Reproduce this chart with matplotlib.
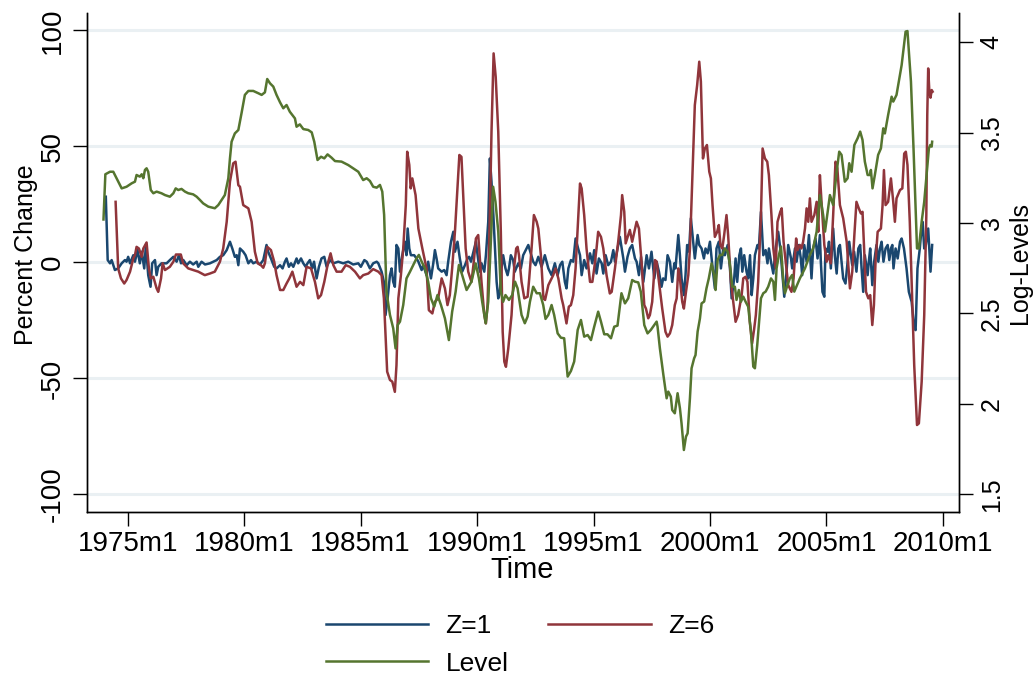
import numpy as np
import matplotlib
matplotlib.use("Agg")
import matplotlib.pyplot as plt

plt.rcParams["font.family"] = ["Liberation Sans", "DejaVu Sans"]

# (decimal year, percent change) -- monthly percent change, Z=1
z1_points = [
    (1974.06, 28.3), (1974.14, 1.0), (1974.24, -0.4), (1974.31, 1.0), (1974.45, -3.3),
    (1974.59, -2.6), (1974.74, -0.4), (1974.88, 1.0), (1974.95, 0.3), (1975.02, 2.4),
    (1975.10, -0.4), (1975.24, 3.1), (1975.31, 0.3), (1975.42, 5.3), (1975.52, -0.4),
    (1975.60, 4.6), (1975.71, -2.6), (1975.78, 7.5), (1975.88, -5.5), (1975.98, -10.5),
    (1976.05, -0.4), (1976.17, 1.0), (1976.24, -5.5), (1976.31, -1.9), (1976.45, -0.4),
    (1976.67, -0.4), (1976.81, 1.0), (1976.96, 2.4), (1977.10, 0.3), (1977.20, 3.1),
    (1977.29, -0.4), (1977.39, 1.0), (1977.53, -1.2), (1977.67, 0.3), (1977.81, -0.9),
    (1977.96, 0.3), (1978.03, -1.9), (1978.17, 0.3), (1978.32, -0.9), (1978.53, -0.4),
    (1978.67, 0.3), (1978.82, 1.0), (1978.96, 2.4), (1979.10, 3.1), (1979.25, 5.3),
    (1979.39, 8.9), (1979.49, 6.0), (1979.60, 2.4), (1979.68, 3.1), (1979.75, -1.2),
    (1979.82, 6.0), (1979.96, 4.6), (1980.06, 3.1), (1980.18, -0.4), (1980.29, 1.0),
    (1980.39, -0.4), (1980.53, 0.3), (1980.68, -0.9), (1980.82, 1.0), (1980.96, 7.5),
    (1981.03, 4.6), (1981.15, 1.7), (1981.29, -1.9), (1981.39, -2.6), (1981.54, -1.2),
    (1981.65, -2.6), (1981.75, 0.3), (1981.82, 1.7), (1981.92, -1.9), (1982.01, -0.4),
    (1982.11, -1.9), (1982.25, 1.7), (1982.32, -0.4), (1982.44, 1.7), (1982.54, -0.4),
    (1982.64, -1.9), (1982.72, -0.4), (1982.82, 1.0), (1982.92, -2.6), (1983.00, 0.3),
    (1983.11, -6.9), (1983.21, -1.9), (1983.32, 1.7), (1983.44, 2.4), (1983.54, -1.9),
    (1983.68, 1.0), (1983.83, -0.4), (1984.04, 0.3), (1984.25, -0.4), (1984.47, 0.3),
    (1984.68, -0.9), (1984.90, -0.4), (1985.01, -1.9), (1985.16, 1.0), (1985.26, 0.3),
    (1985.40, -2.6), (1985.54, -0.4), (1985.69, 0.3), (1985.76, -0.4), (1985.90, -4.0),
    (1986.00, -8.4), (1986.07, -22.7), (1986.16, -15.5), (1986.26, -5.5), (1986.33, -2.6),
    (1986.40, -8.4), (1986.47, -10.5), (1986.54, 7.5), (1986.62, 6.0), (1986.69, -4.0),
    (1986.79, 3.1), (1986.90, 8.9), (1986.97, 3.1), (1987.02, 14.6), (1987.09, 6.0),
    (1987.16, 3.1), (1987.30, 3.1), (1987.40, 1.7), (1987.48, 0.3), (1987.62, -3.3),
    (1987.69, -1.2), (1987.83, -5.5), (1987.90, 0.3), (1988.02, -6.9), (1988.12, -0.4),
    (1988.19, 5.3), (1988.26, 1.7), (1988.33, -2.6), (1988.48, -4.0), (1988.59, -3.3),
    (1988.69, -5.5), (1988.76, 0.3), (1988.88, 8.9), (1988.98, 13.2), (1989.05, 4.6),
    (1989.16, 8.9), (1989.26, 1.7), (1989.36, -4.0), (1989.48, -1.2), (1989.59, 1.7),
    (1989.66, 2.4), (1989.74, 0.3), (1989.81, 3.1), (1989.88, 6.0), (1989.95, 8.9),
    (1990.05, 1.0), (1990.12, -4.0), (1990.19, -0.4), (1990.31, -4.0), (1990.38, 3.1),
    (1990.48, 17.5), (1990.55, 44.8), (1990.62, 34.8), (1990.70, 20.4), (1990.77, 6.0),
    (1990.84, -8.4), (1990.91, -15.5), (1990.98, -12.7), (1991.05, -2.6), (1991.12, 3.1),
    (1991.22, -2.6), (1991.31, -5.5), (1991.37, -2.6), (1991.45, 3.1), (1991.55, 1.0),
    (1991.62, -4.0), (1991.77, -0.4), (1991.88, -2.6), (1991.98, 3.1), (1992.20, 7.5),
    (1992.41, 0.3), (1992.51, -1.2), (1992.63, 2.4), (1992.77, -1.9), (1992.91, 3.1),
    (1993.06, -2.6), (1993.20, -5.5), (1993.34, -0.4), (1993.46, -5.5), (1993.56, -1.2),
    (1993.66, 0.3), (1993.77, -8.4), (1993.84, -11.2), (1993.92, -2.6), (1994.03, 1.0),
    (1994.13, 0.3), (1994.23, 10.3), (1994.34, 6.0), (1994.42, 3.1), (1994.49, -5.5),
    (1994.60, 1.0), (1994.70, -2.6), (1994.85, 3.9), (1994.95, -0.4), (1995.03, 5.3),
    (1995.13, -4.8), (1995.23, 1.7), (1995.35, -0.4), (1995.42, -4.8), (1995.52, 3.1),
    (1995.63, -1.2), (1995.75, 0.3), (1995.85, 5.3), (1995.92, 0.3), (1996.13, 11.0),
    (1996.21, 6.0), (1996.28, 1.7), (1996.35, -4.0), (1996.46, 2.4), (1996.56, 6.0),
    (1996.66, 7.5), (1996.78, 1.7), (1996.85, 0.3), (1996.95, -5.5), (1997.04, 2.4),
    (1997.14, -8.4), (1997.28, 3.1), (1997.38, -2.6), (1997.49, 4.6), (1997.61, -6.9),
    (1997.71, 0.3), (1997.81, -4.0), (1997.92, -10.5), (1997.99, -6.9), (1998.09, -7.6),
    (1998.18, 3.1), (1998.28, 0.3), (1998.38, -8.4), (1998.47, -0.4), (1998.52, -2.6),
    (1998.64, 11.8), (1998.71, 3.1), (1998.78, -6.9), (1998.88, -14.1), (1998.95, -5.5),
    (1999.02, 7.5), (1999.10, 4.6), (1999.18, 19.0), (1999.28, 8.9), (1999.35, 1.7),
    (1999.47, 11.8), (1999.54, 7.5), (1999.64, 6.0), (1999.74, 1.7), (1999.81, 6.0),
    (1999.90, 3.9), (2000.00, 8.9), (2000.10, -1.2), (2000.21, -11.2), (2000.28, 6.0),
    (2000.38, 8.9), (2000.47, -2.6), (2000.57, 6.0), (2000.64, 3.1), (2000.76, 7.5),
    (2000.86, -2.6), (2000.93, -15.5), (2001.04, -6.9), (2001.10, 1.7), (2001.17, -8.4),
    (2001.26, 3.1), (2001.33, 6.0), (2001.39, -4.0), (2001.47, 3.1), (2001.57, -4.0),
    (2001.64, -6.9), (2001.72, 3.1), (2001.79, -14.1), (2001.86, -6.9), (2001.93, 3.1),
    (2002.04, 7.5), (2002.10, 6.0), (2002.19, 21.8), (2002.29, 3.1), (2002.39, 5.3),
    (2002.47, -0.4), (2002.53, 6.0), (2002.62, 0.3), (2002.72, -4.8), (2002.82, 6.0),
    (2002.93, 13.2), (2003.02, 6.0), (2003.10, -4.0), (2003.19, -14.8), (2003.29, -4.0),
    (2003.36, 7.5), (2003.48, 1.7), (2003.53, -2.6), (2003.65, 6.0), (2003.72, 0.3),
    (2003.82, 7.5), (2003.90, 1.7), (2003.96, -5.5), (2004.05, 7.5), (2004.15, 0.3),
    (2004.25, 11.8), (2004.36, -6.9), (2004.43, 6.0), (2004.53, 10.3), (2004.62, 1.7),
    (2004.72, 11.8), (2004.76, 0.3), (2004.83, -12.7), (2004.91, -14.8), (2004.96, 6.0),
    (2005.05, 4.6), (2005.11, 8.9), (2005.19, -2.6), (2005.29, 14.6), (2005.36, 3.1),
    (2005.44, -4.8), (2005.51, 6.0), (2005.58, 7.5), (2005.65, 0.3), (2005.72, -6.9),
    (2005.82, -9.1), (2005.91, 0.3), (2005.98, 8.9), (2006.05, 3.1), (2006.11, -1.2),
    (2006.19, 4.6), (2006.29, -4.0), (2006.37, 6.0), (2006.45, 7.5), (2006.51, -2.6),
    (2006.58, -12.7), (2006.65, 3.1), (2006.77, -5.5), (2006.82, 0.3), (2006.88, 6.0),
    (2006.97, -9.8), (2007.05, 0.3), (2007.15, 7.5), (2007.23, 0.3), (2007.30, 6.0),
    (2007.37, 8.9), (2007.45, 0.3), (2007.54, 6.0), (2007.63, 7.5), (2007.70, 1.0),
    (2007.77, 6.0), (2007.83, 7.5), (2007.88, -2.6), (2007.97, 6.0), (2008.06, 1.7),
    (2008.16, 8.9), (2008.23, 10.3), (2008.33, 6.0), (2008.44, -2.6), (2008.54, -12.7),
    (2008.66, -17.0), (2008.77, -28.5), (2008.83, -29.2), (2008.91, -2.6), (2009.01, 6.0),
    (2009.06, 11.8), (2009.13, 17.5), (2009.20, 6.0), (2009.27, 7.5), (2009.37, 14.6),
    (2009.47, -4.0), (2009.54, 7.5),
]

# (decimal year, percent change) -- six-month percent change, Z=6
z6_points = [
    (1974.48, 26.1), (1974.59, -2.6), (1974.71, -6.9), (1974.85, -9.1), (1974.95, -7.6),
    (1975.10, -4.0), (1975.24, 1.7), (1975.31, 3.1), (1975.38, 6.7), (1975.48, 6.0),
    (1975.60, 2.4), (1975.67, 6.0), (1975.81, 8.6), (1975.91, -2.6), (1975.99, -6.9),
    (1976.10, -6.2), (1976.24, -11.2), (1976.31, -12.7), (1976.43, -6.9), (1976.50, -0.4),
    (1976.60, -3.3), (1976.81, -1.9), (1976.96, 0.3), (1977.07, 3.4), (1977.28, 3.4),
    (1977.38, -0.4), (1977.60, -2.6), (1977.81, -3.3), (1978.03, -4.0), (1978.31, -5.5),
    (1978.53, -4.8), (1978.74, -4.0), (1978.96, 0.3), (1979.10, 6.0), (1979.25, 17.5),
    (1979.39, 34.8), (1979.53, 42.7), (1979.63, 43.4), (1979.75, 33.3), (1979.82, 32.6),
    (1979.96, 24.7), (1980.18, 23.3), (1980.32, 17.5), (1980.46, 4.6), (1980.58, -0.4),
    (1980.72, -1.2), (1980.82, -2.3), (1980.89, -0.4), (1980.99, 6.7), (1981.15, 5.3),
    (1981.29, 0.3), (1981.39, -5.5), (1981.54, -11.9), (1981.68, -11.9), (1981.82, -9.1),
    (1981.94, -6.9), (1982.07, -4.0), (1982.25, -10.5), (1982.40, -8.4), (1982.54, -9.8),
    (1982.68, -1.9), (1982.87, -2.6), (1983.04, -8.4), (1983.18, -15.5), (1983.30, -14.1),
    (1983.44, -8.4), (1983.61, 0.3), (1983.71, 3.9), (1983.83, -1.2), (1983.97, -4.0),
    (1984.18, -4.0), (1984.36, -1.2), (1984.54, -1.9), (1984.76, -4.0), (1984.97, -6.9),
    (1985.11, -5.5), (1985.33, -4.8), (1985.54, -2.9), (1985.76, -4.0), (1985.90, -5.5),
    (1986.00, -15.5), (1986.14, -47.1), (1986.26, -50.7), (1986.36, -51.4), (1986.47, -55.8),
    (1986.54, -44.3), (1986.62, -15.5), (1986.73, -5.5), (1986.83, 6.0), (1986.94, 24.7),
    (1987.00, 47.7), (1987.09, 42.0), (1987.15, 31.9), (1987.22, 36.2), (1987.36, 29.0),
    (1987.48, 14.6), (1987.65, 6.0), (1987.83, -2.6), (1987.93, -20.6), (1988.08, -22.0),
    (1988.19, -17.0), (1988.33, -15.5), (1988.48, -6.9), (1988.62, -11.2), (1988.73, -18.4),
    (1988.83, -14.1), (1988.93, -2.6), (1989.05, 13.2), (1989.16, 31.9), (1989.24, 46.3),
    (1989.33, 45.5), (1989.41, 27.6), (1989.51, 6.0), (1989.62, -4.0), (1989.76, -8.4),
    (1989.86, 0.3), (1989.95, 10.3), (1990.05, 11.8), (1990.19, -8.4), (1990.31, -22.7),
    (1990.38, -26.3), (1990.45, -18.4), (1990.55, 20.4), (1990.62, 56.3), (1990.71, 90.1),
    (1990.80, 80.0), (1990.91, 56.3), (1991.02, 13.2), (1991.10, -29.9), (1991.17, -42.8),
    (1991.24, -45.0), (1991.34, -37.1), (1991.48, -22.7), (1991.60, -1.2), (1991.68, 6.0),
    (1991.74, 6.7), (1991.80, 3.1), (1991.91, -8.4), (1992.03, -15.5), (1992.17, -14.8),
    (1992.24, -6.9), (1992.34, 6.0), (1992.44, 20.4), (1992.56, 17.5), (1992.63, 14.6),
    (1992.74, 3.1), (1992.85, -15.5), (1992.92, -16.2), (1993.06, -9.8), (1993.17, -7.6),
    (1993.27, -5.5), (1993.37, -2.6), (1993.49, -6.9), (1993.63, -15.5), (1993.70, -18.4),
    (1993.84, -26.3), (1993.94, -19.1), (1994.03, -18.4), (1994.13, -14.1), (1994.23, -2.6),
    (1994.34, 19.0), (1994.42, 34.0), (1994.49, 31.9), (1994.60, 20.4), (1994.70, 6.0),
    (1994.85, -8.4), (1994.95, -8.4), (1995.03, -2.6), (1995.13, 6.0), (1995.20, 13.2),
    (1995.32, 11.0), (1995.42, 6.0), (1995.56, -5.5), (1995.70, -13.4), (1995.78, -12.7),
    (1995.92, -2.6), (1996.06, 8.9), (1996.18, 20.4), (1996.23, 29.0), (1996.32, 21.8),
    (1996.38, 8.2), (1996.49, 11.8), (1996.56, 14.0), (1996.66, 8.9), (1996.85, 17.5),
    (1996.95, 14.6), (1997.06, 0.3), (1997.18, -18.4), (1997.25, -19.9), (1997.35, -24.1),
    (1997.42, -22.7), (1997.52, -17.0), (1997.64, 1.0), (1997.71, 0.3), (1997.81, -8.4),
    (1997.95, -19.9), (1998.09, -29.9), (1998.18, -32.0), (1998.28, -30.6), (1998.38, -27.0),
    (1998.49, -18.4), (1998.57, -15.5), (1998.64, -2.6), (1998.71, -6.9), (1998.81, -17.0),
    (1998.88, -19.9), (1998.97, -12.7), (1999.07, -5.5), (1999.14, 6.0), (1999.24, 34.8),
    (1999.35, 67.8), (1999.45, 76.4), (1999.54, 86.5), (1999.61, 77.9), (1999.70, 44.8),
    (1999.78, 49.1), (1999.87, 50.6), (1999.97, 39.1), (2000.04, 36.2), (2000.11, 24.7),
    (2000.21, 11.0), (2000.31, 13.2), (2000.38, 16.1), (2000.45, 7.5), (2000.53, 6.0),
    (2000.61, 11.8), (2000.71, 20.4), (2000.78, 11.8), (2000.90, -8.4), (2001.00, -17.0),
    (2001.10, -25.6), (2001.21, -22.7), (2001.36, -14.1), (2001.43, -6.9), (2001.53, -6.2),
    (2001.61, -8.4), (2001.71, -25.6), (2001.81, -34.9), (2001.90, -28.5), (2001.97, -22.7),
    (2002.07, -8.4), (2002.19, 20.4), (2002.26, 49.1), (2002.36, 44.8), (2002.46, 43.4),
    (2002.53, 37.6), (2002.64, 20.4), (2002.72, 6.0), (2002.82, -2.6), (2002.90, 17.5),
    (2003.02, 21.8), (2003.08, 23.3), (2003.16, 8.9), (2003.25, 0.3), (2003.36, -9.8),
    (2003.50, -12.7), (2003.59, -6.9), (2003.70, 10.3), (2003.76, 5.3), (2003.86, 7.5),
    (2003.93, 6.0), (2004.00, 8.9), (2004.08, 14.6), (2004.15, 23.3), (2004.22, 17.5),
    (2004.29, 27.6), (2004.36, 17.5), (2004.48, 20.4), (2004.58, 26.1), (2004.65, 13.2),
    (2004.72, 37.6), (2004.79, 26.1), (2004.91, 7.5), (2005.01, 0.3), (2005.08, 3.1),
    (2005.19, -0.4), (2005.29, 20.4), (2005.39, 43.4), (2005.47, 40.5), (2005.58, 24.7),
    (2005.72, 19.0), (2005.87, 8.9), (2006.01, -11.2), (2006.11, -4.0), (2006.20, 11.8),
    (2006.29, 26.1), (2006.39, 23.3), (2006.48, 21.1), (2006.55, 21.8), (2006.62, 6.0),
    (2006.70, -12.7), (2006.80, -15.5), (2006.88, -14.1), (2006.97, -27.0), (2007.04, -18.4),
    (2007.11, 0.3), (2007.20, 13.2), (2007.34, 14.6), (2007.41, 24.4), (2007.47, 39.8),
    (2007.54, 24.7), (2007.65, 26.1), (2007.77, 36.2), (2007.87, 26.1), (2007.94, 17.5),
    (2008.01, 27.6), (2008.16, 31.2), (2008.26, 31.9), (2008.34, 46.9), (2008.41, 47.7),
    (2008.48, 42.0), (2008.58, 17.5), (2008.68, -15.5), (2008.77, -44.3), (2008.89, -70.1),
    (2008.97, -69.4), (2009.09, -51.4), (2009.20, -22.7), (2009.29, 20.4), (2009.33, 63.5),
    (2009.37, 83.6), (2009.42, 73.6), (2009.47, 71.0), (2009.52, 74.3), (2009.56, 73.6),
]

# (decimal year, log level) -- right axis
level_points = [
    (1973.96, 3.02), (1974.04, 3.27), (1974.24, 3.284), (1974.38, 3.284), (1974.74, 3.192),
    (1974.95, 3.201), (1975.17, 3.22), (1975.31, 3.229), (1975.38, 3.266), (1975.52, 3.257),
    (1975.60, 3.27), (1975.67, 3.248), (1975.74, 3.294), (1975.81, 3.303), (1975.88, 3.284),
    (1975.99, 3.183), (1976.10, 3.165), (1976.24, 3.174), (1976.45, 3.165), (1976.60, 3.155),
    (1976.81, 3.146), (1976.96, 3.165), (1977.06, 3.192), (1977.17, 3.183), (1977.31, 3.189),
    (1977.46, 3.174), (1977.60, 3.165), (1977.81, 3.159), (1977.96, 3.146), (1978.10, 3.128),
    (1978.24, 3.109), (1978.46, 3.091), (1978.74, 3.082), (1978.89, 3.10), (1979.03, 3.128),
    (1979.17, 3.155), (1979.32, 3.248), (1979.39, 3.358), (1979.46, 3.45), (1979.60, 3.496),
    (1979.75, 3.515), (1979.89, 3.61), (1980.03, 3.709), (1980.18, 3.731), (1980.39, 3.731),
    (1980.61, 3.718), (1980.75, 3.709), (1980.89, 3.723), (1980.99, 3.797), (1981.11, 3.773),
    (1981.25, 3.755), (1981.39, 3.709), (1981.54, 3.668), (1981.68, 3.635), (1981.82, 3.653),
    (1981.96, 3.616), (1982.18, 3.579), (1982.25, 3.533), (1982.39, 3.546), (1982.54, 3.52),
    (1982.75, 3.515), (1982.90, 3.502), (1983.01, 3.45), (1983.15, 3.349), (1983.30, 3.367),
    (1983.44, 3.358), (1983.58, 3.38), (1983.75, 3.362), (1983.90, 3.343), (1984.18, 3.34),
    (1984.47, 3.321), (1984.68, 3.303), (1984.90, 3.284), (1985.11, 3.238), (1985.26, 3.248),
    (1985.40, 3.233), (1985.54, 3.201), (1985.69, 3.196), (1985.83, 3.211), (1985.93, 3.174),
    (1986.01, 3.045), (1986.11, 2.621), (1986.26, 2.492), (1986.40, 2.418), (1986.50, 2.307),
    (1986.59, 2.436), (1986.69, 2.455), (1986.83, 2.547), (1986.97, 2.694), (1987.12, 2.731),
    (1987.26, 2.768), (1987.40, 2.805), (1987.50, 2.824), (1987.62, 2.787), (1987.76, 2.75),
    (1987.90, 2.676), (1988.02, 2.584), (1988.16, 2.538), (1988.30, 2.602), (1988.45, 2.547),
    (1988.62, 2.473), (1988.79, 2.353), (1988.93, 2.51), (1989.08, 2.621), (1989.22, 2.768),
    (1989.36, 2.713), (1989.55, 2.63), (1989.76, 2.676), (1989.94, 2.777), (1990.08, 2.694),
    (1990.22, 2.565), (1990.37, 2.446), (1990.48, 2.565), (1990.58, 2.86), (1990.69, 3.201),
    (1990.79, 3.118), (1990.91, 2.953), (1991.02, 2.621), (1991.12, 2.565), (1991.22, 2.602),
    (1991.37, 2.575), (1991.51, 2.602), (1991.63, 2.676), (1991.74, 2.639), (1991.91, 2.492),
    (1992.05, 2.446), (1992.17, 2.483), (1992.27, 2.565), (1992.41, 2.648), (1992.56, 2.612),
    (1992.70, 2.612), (1992.84, 2.547), (1992.94, 2.47), (1993.06, 2.492), (1993.20, 2.547),
    (1993.31, 2.492), (1993.46, 2.39), (1993.60, 2.366), (1993.74, 2.363), (1993.89, 2.151),
    (1994.03, 2.182), (1994.17, 2.234), (1994.32, 2.409), (1994.46, 2.464), (1994.60, 2.372),
    (1994.75, 2.381), (1994.89, 2.353), (1995.03, 2.427), (1995.20, 2.51), (1995.32, 2.455),
    (1995.46, 2.385), (1995.60, 2.385), (1995.75, 2.363), (1995.89, 2.427), (1996.03, 2.433),
    (1996.20, 2.612), (1996.35, 2.556), (1996.49, 2.584), (1996.66, 2.685), (1996.78, 2.676),
    (1996.92, 2.672), (1997.03, 2.621), (1997.18, 2.436), (1997.32, 2.39), (1997.46, 2.409),
    (1997.61, 2.436), (1997.71, 2.455), (1997.75, 2.427), (1997.85, 2.307), (1998.00, 2.16),
    (1998.14, 2.031), (1998.21, 2.068), (1998.32, 2.04), (1998.38, 1.966), (1998.49, 1.948),
    (1998.61, 2.059), (1998.71, 1.976), (1998.78, 1.892), (1998.88, 1.745), (1998.97, 1.819),
    (1999.04, 1.837), (1999.14, 2.031), (1999.21, 2.197), (1999.32, 2.252), (1999.38, 2.27),
    (1999.47, 2.40), (1999.57, 2.473), (1999.64, 2.556), (1999.75, 2.566), (1999.85, 2.639),
    (1999.95, 2.694), (2000.07, 2.777), (2000.18, 2.713), (2000.24, 2.63), (2000.33, 2.796),
    (2000.43, 2.824), (2000.53, 2.824), (2000.64, 2.86), (2000.76, 2.842), (2000.86, 2.768),
    (2000.96, 2.648), (2001.07, 2.648), (2001.14, 2.575), (2001.24, 2.63), (2001.33, 2.565),
    (2001.43, 2.593), (2001.53, 2.565), (2001.64, 2.538), (2001.76, 2.40), (2001.86, 2.206),
    (2001.93, 2.197), (2002.03, 2.326), (2002.10, 2.436), (2002.19, 2.584), (2002.29, 2.612),
    (2002.39, 2.621), (2002.50, 2.648), (2002.62, 2.694), (2002.72, 2.676), (2002.79, 2.575),
    (2002.86, 2.75), (2002.96, 2.824), (2003.05, 2.87), (2003.15, 2.676), (2003.22, 2.612),
    (2003.33, 2.658), (2003.43, 2.694), (2003.53, 2.713), (2003.62, 2.621), (2003.86, 2.694),
    (2004.08, 2.75), (2004.29, 2.824), (2004.43, 2.86), (2004.58, 2.953), (2004.72, 3.155),
    (2004.86, 3.045), (2004.94, 2.953), (2005.15, 3.155), (2005.29, 3.10), (2005.44, 3.284),
    (2005.55, 3.395), (2005.65, 3.377), (2005.79, 3.229), (2005.91, 3.248), (2005.98, 3.331),
    (2006.08, 3.284), (2006.20, 3.432), (2006.34, 3.469), (2006.45, 3.506), (2006.55, 3.46),
    (2006.65, 3.34), (2006.77, 3.266), (2006.87, 3.266), (2006.91, 3.294), (2006.98, 3.192),
    (2007.08, 3.266), (2007.22, 3.377), (2007.34, 3.413), (2007.44, 3.524), (2007.51, 3.496),
    (2007.65, 3.598), (2007.80, 3.699), (2007.87, 3.672), (2008.01, 3.709), (2008.23, 3.874),
    (2008.40, 4.059), (2008.48, 4.062), (2008.63, 3.782), (2008.74, 3.413), (2008.89, 2.86),
    (2008.97, 2.86), (2009.09, 3.008), (2009.20, 3.118), (2009.31, 3.284), (2009.40, 3.413),
    (2009.46, 3.432), (2009.52, 3.423), (2009.54, 3.45),
]

year_ticks = [1975, 1980, 1985, 1990, 1995, 2000, 2005, 2010]
left_ticks = [-100, -50, 0, 50, 100]
right_ticks = [1.5, 2, 2.5, 3, 3.5, 4]

navy = "#1a476f"
maroon = "#90353b"
green = "#55752f"
grid_c = "#eaf0f3"
narrow = ["Liberation Sans Narrow", "Liberation Sans"]

fig = plt.figure(figsize=(10.34, 6.77), dpi=100)
ax = fig.add_axes([0.0841, 0.2437, 0.8433, 0.7371])
ax2 = ax.twinx()

z1 = np.array(z1_points)
z6 = np.array(z6_points)
lev = np.array(level_points)

l1, = ax.plot(z1[:, 0], z1[:, 1], color=navy, lw=1.8, label="Z=1")
l6, = ax.plot(z6[:, 0], z6[:, 1], color=maroon, lw=1.8, label="Z=6")
l3, = ax2.plot(lev[:, 0], lev[:, 1], color=green, lw=1.8, label="Level")

ax.set_xlim(1973.25, 2010.69)
ax.set_ylim(-107.6, 107.5)
ax2.set_ylim(1.402, 4.162)

ax.set_yticks(left_ticks)
ax.set_yticklabels([str(t) for t in left_ticks], rotation=90, va="center",
                   fontsize=20, family=narrow)
ax.yaxis.grid(True, color=grid_c, lw=2.2)
ax.set_axisbelow(True)
ax2.set_yticks(right_ticks)
ax2.set_yticklabels(["1.5", "2", "2.5", "3", "3.5", "4"], rotation=90, va="center",
                    fontsize=18, family=narrow)

ax.set_xticks(year_ticks)
ax.set_xticklabels([f"{y}m1" for y in year_ticks], fontsize=20, family=narrow)

for a in (ax, ax2):
    a.spines["top"].set_visible(False)
    for s in ("left", "right", "bottom"):
        a.spines[s].set_linewidth(1.0)
ax.tick_params(axis="x", length=10, width=1, pad=4)
ax.tick_params(axis="y", length=10, width=1, pad=5)
ax2.tick_params(axis="y", length=10, width=1, pad=5)

fig.text(26 / 1034, 1 - 255 / 677, "Percent Change", rotation=90, ha="center", va="center", fontsize=18)
fig.text(1020 / 1034, 1 - 263 / 677, "Log-Levels", rotation=90, ha="center", va="center", fontsize=18)
fig.text(522 / 1034, 1 - 570 / 677, "Time", ha="center", va="center", fontsize=21, family=narrow)

fig.legend([l1, l3, l6], ["Z=1", "Level", "Z=6"], ncol=2, frameon=False,
           loc="center", bbox_to_anchor=(520 / 1034, 1 - 645 / 677), fontsize=19,
           handlelength=3.9, columnspacing=1.5, labelspacing=0.5, handletextpad=0.65)

fig.savefig("out.png", dpi=100)
